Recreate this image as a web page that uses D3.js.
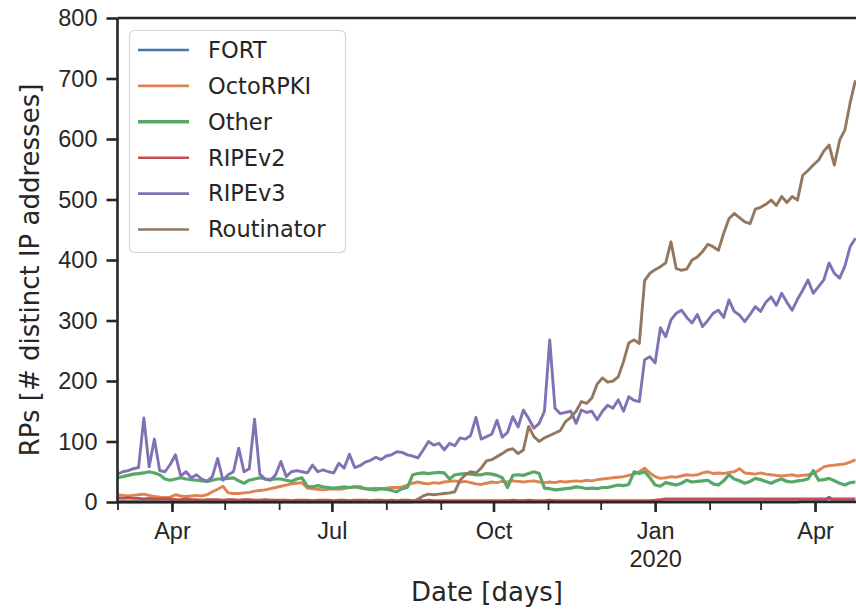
<!DOCTYPE html>
<html>
<head>
<meta charset="utf-8">
<script src="https://cdn.jsdelivr.net/npm/d3@7"></script>
<style>
  body { margin: 0; background: #fff; }
  svg { font-family: "DejaVu Sans", sans-serif; }
</style>
</head>
<body>
<div id="chart"></div>
<script>
// series sampled every 3 days starting 1 Mar 2019
const startDate = new Date(2019, 2, 1);
const stepDays = 3;

const seriesNames = ["FORT", "OctoRPKI", "Other", "RIPEv2", "RIPEv3", "Routinator"];
const seriesColors = ["#4c72b0", "#dd8452", "#55a868", "#c44e52", "#8172b3", "#937860"];

const fort = [
    0,0,0,0,0,0,0,0,0,0, 0,0,0,0,0,0,0,0,0,0, 0,0,0,0,0,0,0,0,0,0,
    0,0,0,0,0,0,0,0,0,0, 0,0,0,0,0,0,0,0,0,0, 0,0,0,0,0,0,0,0,0,0,
    0,0,0,0,0,0,0,0,0,0, 0,0,0,0,0,0,0,0,0,0, 0,0,0,0,0,0,0,0,0,0,
    0,0,0,0,0,0,0,0,0,0, 0,0,0,0,0,0,0,0,0,0, 0,0,0,0,0,0,0,0,0,0,
    0,0,0,0,0,0,0,0,0,0, 1,1,1,1,1,8,1,1,1,1, 1
];
const octoRPKI = [
    12,11,10,11,12,13,11,9,8,7, 8,12,10,9,10,11,10,12,17,21,
    26,15,14,14,15,16,18,19,20,22, 24,26,28,30,31,32,23,22,21,20,
    21,22,21,22,24,25,23,22,22,23, 22,23,24,24,25,28,31,33,31,30,
    32,31,33,34,35,33,34,32,30,29, 31,33,32,34,33,35,34,33,34,35,
    33,32,33,32,34,33,34,35,34,36, 35,37,38,39,40,41,42,44,46,50,
    56,48,42,39,40,42,41,43,45,44, 45,48,50,47,48,47,49,50,55,48,
    47,46,48,46,45,44,43,44,45,43, 44,45,47,52,58,60,61,62,63,66,
    70
];
const other = [
    40,42,44,46,47,48,50,48,45,38, 36,38,40,38,37,36,35,34,36,38,
    38,39,40,35,31,36,38,40,38,37, 38,38,36,34,38,40,26,25,27,25,
    24,23,24,25,24,25,25,22,21,20, 22,21,19,17,22,24,45,47,48,47,
    48,49,48,38,45,46,47,46,45,45, 47,46,44,40,24,44,45,44,47,50,
    47,23,22,20,21,22,23,25,24,22, 23,22,24,24,26,28,27,29,50,47,
    50,40,28,26,32,30,28,31,36,33, 34,35,36,30,28,35,45,38,35,31,
    34,39,37,34,31,35,38,34,33,35, 36,38,52,36,37,39,35,31,28,32,
    33
];
const ripev2 = [
    7,6,7,6,6,5,6,5,5,6, 5,4,4,5,4,4,3,4,4,4, 3,4,4,3,4,4,3,3,4,3,
    3,3,3,2,3,3,3,2,3,3, 3,2,3,3,2,3,3,3,2,3, 3,2,3,2,3,3,2,3,2,3,
    2,2,2,2,2,2,2,2,2,2, 2,2,2,2,2,3,2,2,3,2, 2,2,3,2,2,2,2,2,2,2,
    2,2,2,2,2,2,2,2,2,2, 2,2,3,4,5,5,5,5,5,5, 5,5,5,5,5,5,5,5,5,5,
    5,5,5,5,5,5,5,5,5,5, 5,5,5,5,5,5,5,5,5,5, 5
];
const ripev3 = [
    46,50,52,55,57,139,58,104,52,50, 62,78,43,50,40,45,38,34,42,72,
    36,45,50,89,50,55,137,46,38,36, 45,67,42,50,52,50,48,61,50,53,
    50,48,64,56,79,57,60,66,69,74, 70,76,78,83,82,78,76,73,86,100,
    94,97,86,97,93,106,104,110,140,104, 108,112,135,107,115,141,124,152,138,122,
    130,150,268,155,146,148,150,130,152,148, 150,136,150,160,155,169,150,174,168,166,
    235,240,230,288,273,301,312,317,305,296, 310,290,300,312,317,305,334,315,309,298,
    310,323,315,330,339,325,345,330,317,335, 350,367,345,356,367,395,378,370,390,422,
    436
];
const routinator = [
    0,0,0,0,0,0,0,0,0,0, 0,0,0,0,0,0,0,0,0,0, 0,0,0,0,0,0,0,0,0,0,
    0,0,0,0,0,0,0,0,0,0, 0,0,0,0,0,0,0,0,0,0, 0,0,0,0,0,0,0,5,10,13,
    12,13,14,15,17,36,45,50,48,56, 68,70,75,80,86,88,80,86,125,108,
    100,106,110,114,118,133,140,150,166,163, 172,195,205,198,200,207,232,263,268,262,
    366,378,384,389,395,430,386,383,385,400, 405,414,426,422,416,444,468,477,470,463,
    460,484,487,492,499,490,505,495,505,499, 540,548,557,565,580,590,557,598,615,660,
    697
];
const seriesValues = [fort, octoRPKI, other, ripev2, ripev3, routinator];

const yTicks = [0, 100, 200, 300, 400, 500, 600, 700, 800];

function drawChart() {
    const width = 856;
    const height = 609;
    const margin = { top: 18, right: 0, bottom: 107, left: 117.5 };
    const ink = "#262626";

    const svg = d3.select("#chart")
        .append("svg")
        .attr("width", width)
        .attr("height", height);

    const x = d3.scaleTime()
        .domain([startDate, new Date(2020, 3, 25)])
        .range([margin.left, 857.2]);

    const y = d3.scaleLinear()
        .domain([0, 800])
        .range([height - margin.bottom, margin.top]);

    svg.append("clipPath").attr("id", "plot-clip")
        .append("rect")
        .attr("x", margin.left)
        .attr("y", 0)
        .attr("width", width - margin.left)
        .attr("height", height - margin.bottom + 4);

    const line = d3.line()
        .x((d, i) => x(d3.timeDay.offset(startDate, i * stepDays)))
        .y(d => y(d));

    // lines, drawn in legend order so later ones sit on top
    svg.append("g")
        .attr("clip-path", "url(#plot-clip)")
        .selectAll("path")
        .data(seriesValues)
        .join("path")
        .attr("d", d => line(d))
        .attr("fill", "none")
        .attr("stroke", (d, i) => seriesColors[i])
        .attr("stroke-width", (d, i) => seriesNames[i] === "Other" ? 3.2 : 2.9)
        .attr("stroke-linejoin", "round");

    // minor x ticks (monthly)
    svg.append("g")
        .attr("transform", `translate(0,${y(0)})`)
        .call(d3.axisBottom(x)
            .ticks(d3.timeMonth.every(1))
            .tickSize(8)
            .tickFormat(""))
        .call(g => g.select(".domain").remove())
        .call(g => g.selectAll("line").attr("stroke", ink).attr("stroke-width", 1.8));

    // major x ticks (quarterly)
    const xAxis = svg.append("g")
        .attr("transform", `translate(0,${y(0)})`)
        .call(d3.axisBottom(x)
            .ticks(d3.timeMonth.every(3))
            .tickSize(10)
            .tickPadding(10)
            .tickFormat(d3.timeFormat("%b")));
    xAxis.select(".domain").remove();
    xAxis.selectAll("line").attr("stroke", ink).attr("stroke-width", 2.6);
    xAxis.selectAll("text")
        .attr("fill", ink)
        .style("font-size", "23.5px")
        .each(function (d) {
            if (d.getMonth() === 0) {
                d3.select(this).append("tspan")
                    .attr("x", 0)
                    .attr("dy", "1.2em")
                    .text(d.getFullYear());
            }
        });

    // y axis
    const yAxis = svg.append("g")
        .attr("transform", `translate(${margin.left},0)`)
        .call(d3.axisLeft(y)
            .tickValues(yTicks)
            .tickSize(11)
            .tickPadding(9));
    yAxis.select(".domain").remove();
    yAxis.selectAll("line").attr("stroke", ink).attr("stroke-width", 2.6);
    yAxis.selectAll("text").attr("fill", ink).style("font-size", "23.5px");

    // spines
    const spines = svg.append("g").attr("stroke", ink).attr("stroke-width", 2.6);
    spines.append("line")
        .attr("x1", margin.left).attr("x2", margin.left)
        .attr("y1", y(800)).attr("y2", y(0));
    spines.append("line")
        .attr("x1", margin.left).attr("x2", width)
        .attr("y1", y(800)).attr("y2", y(800));
    spines.append("line")
        .attr("x1", margin.left).attr("x2", width)
        .attr("y1", y(0)).attr("y2", y(0));

    // axis labels
    svg.append("text")
        .attr("x", 487)
        .attr("y", 601)
        .attr("text-anchor", "middle")
        .attr("fill", ink)
        .style("font-size", "26px")
        .text("Date [days]");

    svg.append("text")
        .attr("transform", `translate(39,${(y(0) + y(800)) / 2 + 10}) rotate(-90)`)
        .attr("text-anchor", "middle")
        .attr("fill", ink)
        .style("font-size", "26px")
        .text("RPs [# distinct IP addresses]");

    // legend
    const legend = svg.append("g");
    legend.append("rect")
        .attr("x", 129.5)
        .attr("y", 30.5)
        .attr("width", 216)
        .attr("height", 222)
        .attr("rx", 5)
        .attr("fill", "#fff")
        .attr("fill-opacity", 0.8)
        .attr("stroke", "#d6d6d6")
        .attr("stroke-width", 1.2);

    const rows = legend.selectAll("g.row")
        .data(seriesNames)
        .join("g")
        .attr("class", "row")
        .attr("transform", (d, i) => `translate(0,${50 + i * 35.9})`);
    rows.append("line")
        .attr("x1", 138).attr("x2", 189)
        .attr("stroke", (d, i) => seriesColors[i])
        .attr("stroke-width", d => d === "Other" ? 3.6 : 2.6);
    rows.append("text")
        .attr("x", 208)
        .attr("dy", "0.35em")
        .attr("fill", ink)
        .style("font-size", "22.5px")
        .text(d => d);
}

document.addEventListener("DOMContentLoaded", drawChart);
</script>
</body>
</html>
